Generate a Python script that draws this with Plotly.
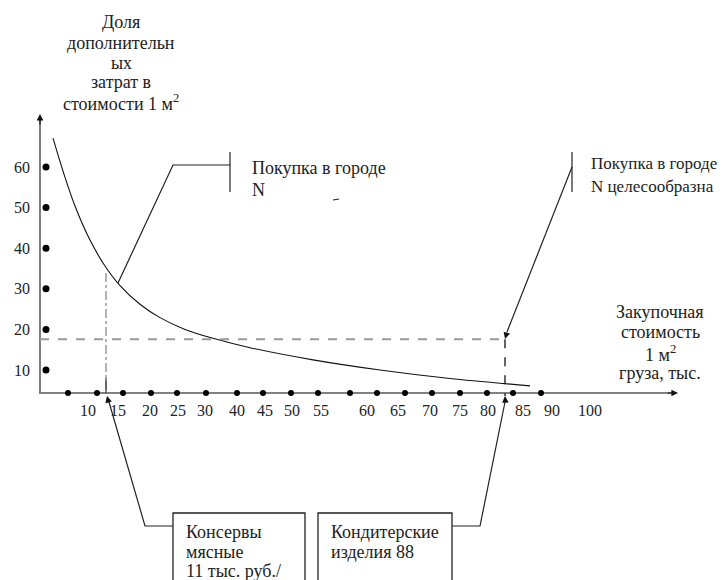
import plotly.graph_objects as go

# ---------------- data ----------------
# curve: x = horizontal position on the diagram, y = share of additional costs
curve_x = [53, 63, 75, 89, 104, 120, 140, 160, 185, 213, 250, 313, 380, 450, 530]
curve_y = [67.1, 59.0, 50.4, 42.5, 36.0, 30.8, 26.2, 22.9, 20.0, 17.8, 15.5, 12.5, 10.0, 7.9, 6.1]

y_tick_vals = [60, 50, 40, 30, 20, 10]
y_tick_labels = ["60", "50", "40", "30", "20", "10"]

x_dot_pos = [68, 97, 123, 151, 177, 206, 237, 263, 291, 318, 350, 377, 405, 432, 460, 487, 513, 541]
x_tick_pos = [88, 118, 150, 178, 205, 237, 265, 292, 321, 367, 398, 430, 460, 488, 523, 552, 590]
x_tick_labels = ["10", "15", "20", "25", "30", "40", "45", "50", "55", "60",
                 "65", "70", "75", "80", "85", "90", "100"]

threshold_y = 17.6          # dashed horizontal level
left_mark_x = 106           # dash-dot vertical
right_mark_x = 505          # dashed vertical

# ---------------- geometry helpers ----------------
W, H = 727, 580
PAGE_OFF = 8                # default body margin of the html page
Y0, K = 410.6, 4.06         # pixel of value 0, pixels per unit


def v(p):
    """pixel row -> y value"""
    return (Y0 - p) / K


axis_y = v(393)
FONT = "Liberation Serif"
TXT = "#222222"

fig = go.Figure()

# axes
fig.add_trace(go.Scatter(x=[40, 40, 672], y=[v(120), axis_y, axis_y], mode="lines",
                         line=dict(color="#808080", width=2), hoverinfo="skip"))

# curve
fig.add_trace(go.Scatter(x=curve_x, y=curve_y, mode="lines",
                         line=dict(color="#111111", width=1.1, shape="spline", smoothing=0.8),
                         hoverinfo="skip"))

# dashed horizontal and verticals
fig.add_trace(go.Scatter(x=[40, right_mark_x], y=[threshold_y, threshold_y], mode="lines",
                         line=dict(color="#9a9a9a", width=2, dash="dash"), hoverinfo="skip"))
fig.add_trace(go.Scatter(x=[right_mark_x, right_mark_x], y=[threshold_y, v(396)], mode="lines",
                         line=dict(color="#111111", width=1.3, dash="dash"), hoverinfo="skip"))
fig.add_trace(go.Scatter(x=[left_mark_x, left_mark_x], y=[v(273), axis_y], mode="lines",
                         line=dict(color="#9a9a9a", width=1.5, dash="dashdot"), hoverinfo="skip"))
fig.add_trace(go.Scatter(x=[left_mark_x, left_mark_x], y=[v(378), v(393)], mode="lines",
                         line=dict(color="#333333", width=1.2), hoverinfo="skip"))

# dots
fig.add_trace(go.Scatter(x=[46] * len(y_tick_vals), y=y_tick_vals, mode="markers",
                         marker=dict(color="black", size=7), hoverinfo="skip"))
fig.add_trace(go.Scatter(x=x_dot_pos, y=[axis_y] * len(x_dot_pos), mode="markers",
                         marker=dict(color="black", size=6), hoverinfo="skip"))

# callout lines
line_style = dict(color="#222222", width=1.2)
fig.add_trace(go.Scatter(x=[118, 173, 230], y=[v(283), v(165), v(165)], mode="lines",
                         line=line_style, hoverinfo="skip"))
fig.add_trace(go.Scatter(x=[230, 230], y=[v(152), v(192)], mode="lines",
                         line=line_style, hoverinfo="skip"))
fig.add_trace(go.Scatter(x=[572, 572], y=[v(152), v(192)], mode="lines",
                         line=line_style, hoverinfo="skip"))
fig.add_trace(go.Scatter(x=[572, 507], y=[v(167), v(332)], mode="lines",
                         line=line_style, hoverinfo="skip"))
fig.add_trace(go.Scatter(x=[333, 339], y=[v(200), v(199)], mode="lines",
                         line=line_style, hoverinfo="skip"))
fig.add_trace(go.Scatter(x=[173, 145, 109], y=[v(526), v(526), v(402)], mode="lines",
                         line=line_style, hoverinfo="skip"))
fig.add_trace(go.Scatter(x=[452, 480, 505], y=[v(526), v(526), v(402)], mode="lines",
                         line=line_style, hoverinfo="skip"))

# boxes
for x0, x1 in [(173, 305), (318, 452)]:
    fig.add_shape(type="rect", x0=x0, x1=x1, y0=v(513), y1=v(620),
                  line=dict(color="#222222", width=1.3), xref="x", yref="y")

annotations = []


def arrow(x_tip, p_tip, x_from, p_from):
    annotations.append(dict(x=x_tip, y=v(p_tip), ax=x_from, ay=v(p_from), xref="x", yref="y",
                            axref="x", ayref="y", text="", showarrow=True, arrowhead=2,
                            arrowsize=1.1, arrowwidth=1.2, arrowcolor="#111111"))


arrow(40, 114, 40, 126)            # y axis head
arrow(678, 393, 666, 393)          # x axis head
arrow(505, 339, 507, 332)          # right callout head
arrow(107, 396, 109, 404)          # bottom left head
arrow(505, 396, 505.5, 404)        # bottom right head


def label(x, p, text, anchor="center", size=18):
    annotations.append(dict(x=x, y=v(p), text=text, showarrow=False, xref="x", yref="y",
                            xanchor=anchor, yanchor="middle",
                            font=dict(family=FONT, size=size, color=TXT)))


for val, t in zip(y_tick_vals, y_tick_labels):
    annotations.append(dict(x=22, y=val, text=t, showarrow=False, xref="x", yref="y",
                            xanchor="center", yanchor="middle",
                            font=dict(family=FONT, size=16, color=TXT)))
for xp, t in zip(x_tick_pos, x_tick_labels):
    label(xp, 410, t, size=16)

# y title
for p, t in zip([22, 43, 63, 82, 102],
                ["Доля", "дополнительн", "ых", "затрат в", "стоимости 1 м<sup>2</sup>"]):
    label(121, p, t)

# x title
for p, t in zip([312, 332, 353, 373],
                ["Закупочная", "стоимость", "1 м<sup>2</sup>", "груза, тыс."]):
    label(660, p, t)

# callout texts
label(250, 168, "Покупка в городе", "left")
label(250, 190, "N", "left")
label(589, 163, "Покупка в городе", "left", size=17)
label(589, 186, "N целесообразна", "left", size=17)

# box texts
label(184, 532, "Консервы", "left")
label(184, 552, "мясные", "left")
label(184, 571, "11 тыс. руб./", "left")
label(329, 532, "Кондитерские", "left")
label(329, 552, "изделия 88", "left")

fig.update_layout(
    width=W, height=H,
    margin=dict(l=0, r=0, t=0, b=0),
    paper_bgcolor="white", plot_bgcolor="white",
    showlegend=False,
    xaxis=dict(range=[PAGE_OFF, W + PAGE_OFF], visible=False, fixedrange=True),
    yaxis=dict(range=[v(H + PAGE_OFF), v(PAGE_OFF)], visible=False, fixedrange=True),
    annotations=annotations,
)

fig.write_html("out.html")
